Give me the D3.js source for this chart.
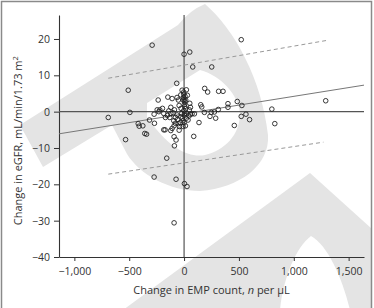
<!DOCTYPE html>
<html>
<head>
<meta charset="utf-8">
<script src="https://cdn.jsdelivr.net/npm/d3@7"></script>
<style>
  body { margin: 0; background: #fff; }
  svg { display: block; font-family: "Open Sans", sans-serif; }
</style>
</head>
<body>
<div id="chart"></div>
<script>

// change in EMP count (n per uL) for each patient
const empChange = [
    -291, 521, 0, 52, 79, 252, -509, -67, -494, -691,
    -533, -236, -148, -109, 188, 215, 315, 355, 152, 161,
    185, 236, 248, 288, 276, 312, 400, 400, 485, 527,
    521, 564, 597, 458, 800, 827, 1291, 88, 136, 94,
    -158, -273, -73, 3, 27, -91, -88, -91, -73, -358,
    -342, -418, -409, -376, -315, -270, -273, -221, -197, -185,
    -173, -121, -170, -152, -139, -121, -100, -88, -64, -52,
    -45, -30, -18, -3, -6, 9, 15, 30, 52, 6,
    15, 58, 73, 45, 21, -15, -33, -52, -42, -79,
    -91, -109, -45, -9, 12, 36, -64, -21, -27, -58,
    -130, -185, -230, -245, -94, -9, 6, 21, -79, -30,
    58, 48, -9, 24, -121, 3, -3, 3, 0, 6, -3, 0
];

// change in eGFR (mL/min/1.73 m2), same order
const egfrChange = [
    18.3, 19.8, 15.8, 16.4, 12.3, 12.3, 5.9, 7.8, -0.2, -1.6,
    -7.7, 3.2, 4.0, 3.6, 6.4, 5.4, 5.6, 5.6, 1.9, 1.3,
    -0.2, -1.3, -0.2, -1.8, -0.1, 0.6, 2.2, 1.2, 2.8, 1.7,
    -1.3, -0.7, -2.2, -3.8, 0.7, -3.3, 3.0, -6.8, -3.0, -0.6,
    -12.8, -18.0, -18.6, -19.8, -20.6, -30.6, -9.4, -6.9, -7.8, -6.0,
    -6.2, -3.3, -4.0, -3.9, -2.3, -3.2, -0.7, 0.5, 0.9, -5.0,
    -5.0, -5.2, -1.6, -1.0, 0.2, -0.5, -0.3, 0.5, 3.9, 3.2,
    1.7, 4.6, 5.9, 5.4, 3.9, 4.2, 3.2, 4.5, 2.3, 1.4,
    0.8, 1.2, -0.6, -1.2, -1.8, -1.8, -3.0, -3.3, -4.1, -3.2,
    -3.9, -4.6, -5.1, -4.1, -3.9, -2.3, -0.9, -0.5, 0.9, -2.1,
    -1.6, -0.5, 0.0, 0.5, -2.5, 3.2, 2.8, 6.0, -1.6, -1.5,
    -0.7, 0.5, -2.5, -0.6, 1.2, 2.0, 0.3, -1.0, -3.0, -0.5, 4.8, 3.3
];

// regression line and its prediction band (end points)
const fitLine = [[-1140, -6.1], [1640, 7.3]];
const upperBand = [[-691, 9.2], [1300, 19.6]];
const lowerBand = [[-691, -17.2], [1270, -8.4]];

const xTicks = [-1000, -500, 0, 500, 1000, 1500];
const yTicks = [-40, -30, -20, -10, 0, 10, 20];

const xTitle = "Change in EMP count, ";
const yTitle = "Change in eGFR, mL/min/1.73 m";

const W = 374, H = 308;
const margin = {top: 15, right: 10, bottom: 51, left: 59};

const svg = d3.select("#chart").append("svg")
    .attr("width", W)
    .attr("height", H);

// watermark in the background (publisher logo, light grey)
svg.append("path")
    .attr("fill", "#e4e4e4")
    .attr("fill-rule", "evenodd")
    .attr("d",
        "M20,125 L178,25 Q190,10 205,4 " +
        "C235,30 262,80 268,135 C270,165 240,188 200,191 " +
        "C170,191 140,175 127,154 L112,125 L43,167 Z " +
        "M147,103 L200,70 C222,76 238,95 240,113 C240,135 225,150 205,155 " +
        "C190,158 170,150 147,117 Z");
svg.append("path")
    .attr("fill", "#e4e4e4")
    .attr("fill-rule", "evenodd")
    .attr("d",
        "M123,310 L310,173 L372,229 L372,310 Z " +
        "M280,310 C283,280 295,248 311,236 C328,245 343,280 350,310 Z");

// frame
svg.append("rect")
    .attr("x", 1.5).attr("y", 1.5)
    .attr("width", 370).attr("height", 320)
    .attr("fill", "none")
    .attr("stroke", "#8a8a8a")
    .attr("stroke-width", 1.5);

const x = d3.scaleLinear().domain([-1140, 1640]).range([margin.left, W - margin.right]);
const y = d3.scaleLinear().domain([-40, 26.6]).range([H - margin.bottom, margin.top]);

// axes
const xAxis = svg.append("g")
    .attr("transform", `translate(0,${y(-40)})`)
    .call(d3.axisBottom(x).tickValues(xTicks).tickSize(4).tickSizeOuter(0)
        .tickFormat(d => d3.format(",")(d).replace("-", "\u2013")));

const yAxis = svg.append("g")
    .attr("transform", `translate(${x(-1140)},0)`)
    .call(d3.axisLeft(y).tickValues(yTicks).tickSize(5).tickSizeOuter(0)
        .tickFormat(d => d3.format(",")(d).replace("-", "\u2013")));

[xAxis, yAxis].forEach(a => {
    a.select(".domain").attr("stroke", "#333").attr("stroke-width", 1.1);
    a.selectAll(".tick line").attr("stroke", "#333");
    a.selectAll(".tick text")
        .attr("fill", "#333")
        .attr("font-size", "10.5px")
        .attr("font-family", "Open Sans, sans-serif");
});
xAxis.selectAll(".tick text").attr("dy", "1.0em");
yAxis.selectAll(".tick text").attr("dx", "-1px");

// zero lines
svg.append("line")
    .attr("x1", x(0)).attr("x2", x(0))
    .attr("y1", y(-40)).attr("y2", y(26.6))
    .attr("stroke", "#333").attr("stroke-width", 1);
svg.append("line")
    .attr("x1", x(-1140)).attr("x2", x(1640))
    .attr("y1", y(0)).attr("y2", y(0))
    .attr("stroke", "#555").attr("stroke-width", 1.1);

const line = d3.line().x(d => x(d[0])).y(d => y(d[1]));

// fit line and prediction band
svg.append("path")
    .datum(fitLine)
    .attr("d", line)
    .attr("fill", "none")
    .attr("stroke", "#777")
    .attr("stroke-width", 1);

svg.selectAll(".band")
    .data([upperBand, lowerBand])
    .join("path")
    .attr("class", "band")
    .attr("d", line)
    .attr("fill", "none")
    .attr("stroke", "#999")
    .attr("stroke-width", 1)
    .attr("stroke-dasharray", "4,3");

// points
svg.append("g")
    .selectAll("circle")
    .data(empChange.map((v, i) => [v, egfrChange[i]]))
    .join("circle")
    .attr("cx", d => x(d[0]))
    .attr("cy", d => y(d[1]))
    .attr("r", 2.3)
    .attr("fill", "none")
    .attr("stroke", "#222")
    .attr("stroke-width", 0.9);

// axis titles
const xt = svg.append("text")
    .attr("x", x(250))
    .attr("y", 294)
    .attr("text-anchor", "middle")
    .attr("font-size", "11px")
    .attr("fill", "#333")
    .text(xTitle);
xt.append("tspan").attr("font-style", "italic").text("n");
xt.append("tspan").text(" per \u03bcL");

const yt = svg.append("text")
    .attr("transform", `translate(22,${y(-8)}) rotate(-90)`)
    .attr("text-anchor", "middle")
    .attr("font-size", "11px")
    .attr("fill", "#333")
    .text(yTitle);
yt.append("tspan").attr("font-size", "7.5px").attr("dy", "-4").text("2");

</script>
</body>
</html>
